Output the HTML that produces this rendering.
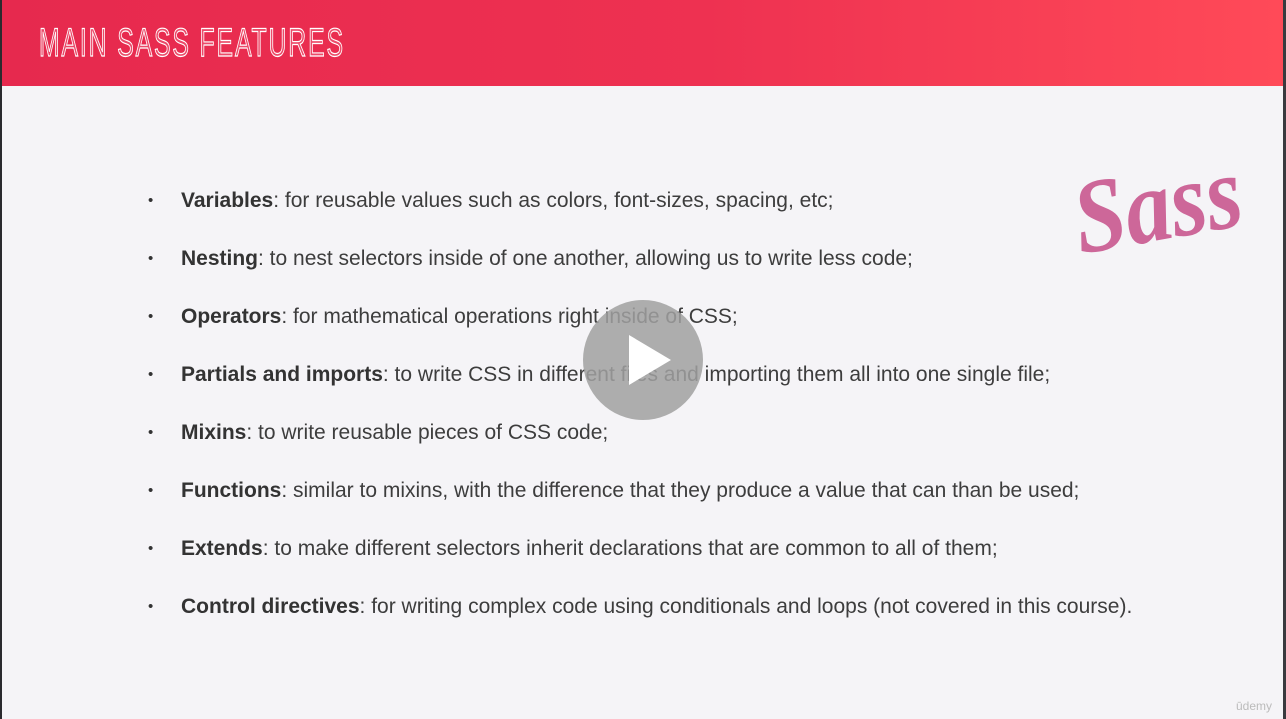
<!DOCTYPE html>
<html><head><meta charset="utf-8"><style>
html,body{margin:0;padding:0;}
body{width:1286px;height:719px;background:#f5f4f7;position:relative;overflow:hidden;font-family:"Liberation Sans",sans-serif;}
#frame-left{position:absolute;left:0;top:0;width:2px;height:719px;background:#2a2a2e;}
#frame-right{position:absolute;right:0;top:0;width:3px;height:719px;background:#3a3a3e;}
#header{position:absolute;left:2px;top:0;width:1281px;height:86px;background:linear-gradient(90deg,#e6294e,#ee3151 55%,#ff4a58);}
#title{position:absolute;left:39px;top:23px;font-family:"Liberation Sans",sans-serif;font-size:40px;line-height:40px;letter-spacing:3px;color:rgba(255,255,255,0.15);-webkit-text-stroke:1.2px #fff;transform:scaleX(0.62);transform-origin:left;white-space:nowrap;}
ul{position:absolute;left:148px;top:172px;margin:0;padding:0;list-style:none;}
li{font-size:21px;line-height:58px;color:#3d3d3d;white-space:nowrap;position:relative;padding-left:33px;font-weight:300;}
li::before{content:"•";position:absolute;left:0;font-size:15px;color:#333;}
li b{font-weight:bold;color:#333;}
#play{position:absolute;left:583px;top:300px;width:120px;height:120px;border-radius:50%;background:rgba(160,160,160,0.85);}
#play::after{content:"";position:absolute;left:46px;top:35px;border-left:42px solid #fff;border-top:25px solid transparent;border-bottom:25px solid transparent;}
#udemy{position:absolute;right:14px;bottom:6px;font-size:12px;color:#bbb;}
</style></head><body>
<div id="frame-left"></div>
<div id="frame-right"></div>
<div id="header"></div>
<div id="title">MAIN SASS FEATURES</div>
<svg style="position:absolute;left:1060px;top:125px" width="180" height="135">
<text x="12" y="112" font-family="Liberation Serif,serif" font-style="italic" font-weight="bold" font-size="100" fill="#cd6799" transform="rotate(-10 80 70) scale(0.92 1.05)">Sass</text>
</svg>
<ul>
<li><b>Variables</b>: for reusable values such as colors, font-sizes, spacing, etc;</li>
<li><b>Nesting</b>: to nest selectors inside of one another, allowing us to write less code;</li>
<li><b>Operators</b>: for mathematical operations right inside of CSS;</li>
<li><b>Partials and imports</b>: to write CSS in different files and importing them all into one single file;</li>
<li><b>Mixins</b>: to write reusable pieces of CSS code;</li>
<li><b>Functions</b>: similar to mixins, with the difference that they produce a value that can than be used;</li>
<li><b>Extends</b>: to make different selectors inherit declarations that are common to all of them;</li>
<li><b>Control directives</b>: for writing complex code using conditionals and loops (not covered in this course).</li>
</ul>
<div id="play"></div>
<div id="udemy">ūdemy</div>
</body></html>
